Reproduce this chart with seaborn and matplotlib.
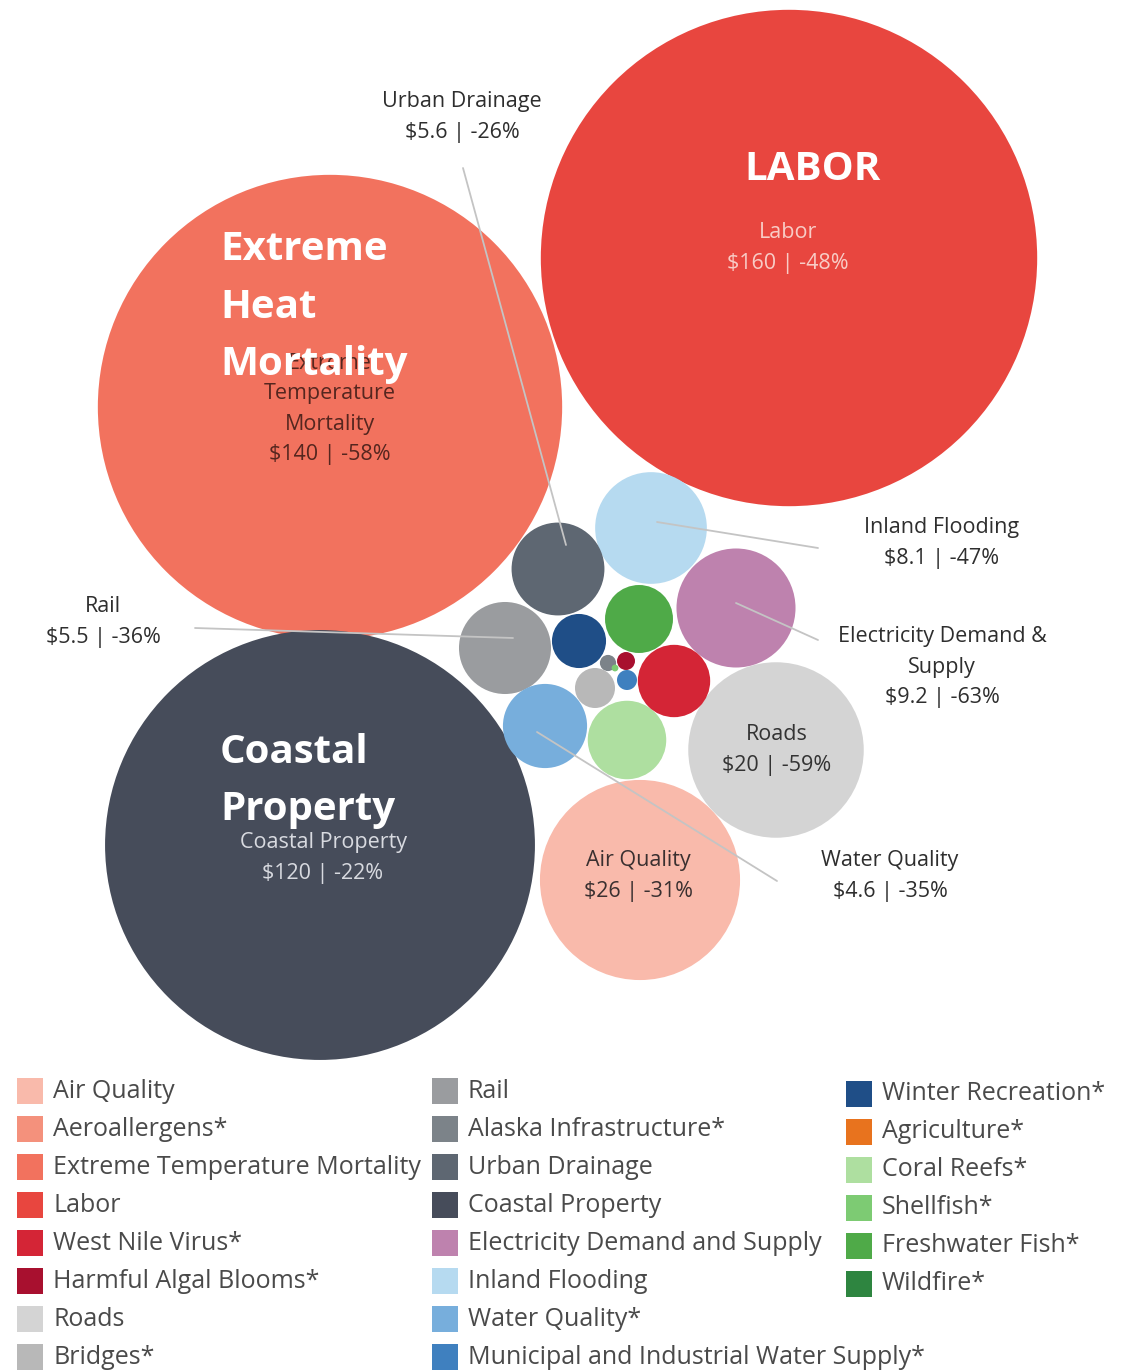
import matplotlib
matplotlib.use("Agg")
import pandas as pd
import seaborn as sns
from matplotlib import pyplot as plt
from matplotlib.patches import Rectangle

W, H = 1132, 1371
FONT = "Open Sans"

# bubble values in $ billions, centres (pixel grid)
bubble_names = ["Labor", "Extreme Temperature Mortality", "Coastal Property", "Air Quality", "Roads",
                "Electricity Demand and Supply", "Inland Flooding", "Urban Drainage", "Rail",
                "Water Quality*", "Coral Reefs*", "West Nile Virus*", "Freshwater Fish*",
                "Winter Recreation*", "Bridges*", "Municipal and Industrial Water Supply*",
                "Harmful Algal Blooms*", "Alaska Infrastructure*", "Shellfish*"]
bubble_values = [160, 140, 120, 26, 20, 9.2, 8.1, 5.6, 5.5, 4.6, 4.0, 3.4, 3.0, 1.9, 1.04, 0.26, 0.21, 0.17, 0.03]
bubble_x = [789, 330, 320, 640, 776, 736, 651, 558, 505, 545, 627, 674, 639, 579, 595, 627, 626, 608, 615]
bubble_y = [258, 407, 845, 880, 750, 608, 528, 569, 648, 726, 740, 681, 619, 641, 688, 680, 661, 663, 668]

legend_col1 = ["Air Quality", "Aeroallergens*", "Extreme Temperature Mortality", "Labor",
               "West Nile Virus*", "Harmful Algal Blooms*", "Roads", "Bridges*"]
legend_col2 = ["Rail", "Alaska Infrastructure*", "Urban Drainage", "Coastal Property",
               "Electricity Demand and Supply", "Inland Flooding", "Water Quality*",
               "Municipal and Industrial Water Supply*"]
legend_col3 = ["Winter Recreation*", "Agriculture*", "Coral Reefs*", "Shellfish*",
               "Freshwater Fish*", "Wildfire*"]

colors = {
    "Air Quality": "#F9BAAB", "Aeroallergens*": "#F4917C", "Extreme Temperature Mortality": "#F2725E",
    "Labor": "#E8463F", "West Nile Virus*": "#D42536", "Harmful Algal Blooms*": "#A8102F",
    "Roads": "#D4D4D4", "Bridges*": "#B8B8B8", "Rail": "#9A9C9F", "Alaska Infrastructure*": "#7C8389",
    "Urban Drainage": "#5E6772", "Coastal Property": "#464C5A", "Electricity Demand and Supply": "#BE82AE",
    "Inland Flooding": "#B6DAF0", "Water Quality*": "#77AEDC", "Municipal and Industrial Water Supply*": "#3F80BF",
    "Winter Recreation*": "#1F4E87", "Agriculture*": "#E8731E", "Coral Reefs*": "#AEDFA0",
    "Shellfish*": "#7DCB73", "Freshwater Fish*": "#4FAA48", "Wildfire*": "#2E8540",
}

# callouts outside the bubbles: text, text centre, leader line start (bubble) and end
callout_text = ["Urban Drainage\n$5.6 | -26%", "Inland Flooding\n$8.1 | -47%",
                "Electricity Demand &\nSupply\n$9.2 | -63%", "Rail\n$5.5 | -36%", "Water Quality\n$4.6 | -35%"]
callout_xy = [(462, 117), (942, 543), (942, 667), (103, 622), (890, 876)]
leader_from = [(566, 545), (657, 522), (736, 603), (513, 638), (537, 732)]
leader_to = [(463, 168), (818, 548), (818, 640), (195, 628), (777, 881)]

# labels inside the bubbles
inner_text = ["Labor\n$160 | -48%", "Extreme\nTemperature\nMortality\n$140 | -58%",
              "Coastal Property\n$120 | -22%", "Roads\n$20 | -59%", "Air Quality\n$26 | -31%"]
inner_xy = [(788, 248), (330, 409), (323, 858), (777, 750), (638, 876)]
inner_color = ["#F8CCC6", "#55261F", "#D8DAE0", "#333333", "#3A3030"]

headline_text = ["LABOR", "Extreme\nHeat\nMortality", "Coastal\nProperty"]
headline_xy = [(813, 170), (220, 307), (220, 781)]
headline_ha = ["center", "left", "left"]

# area proportional to value: radius_px = sqrt(385 * value); markers in points at dpi 100
px_to_pt = 72 / 100
area_per_unit = (2 * px_to_pt) ** 2 * 385

df = pd.DataFrame({"name": bubble_names, "value": bubble_values, "x": bubble_x, "y": bubble_y})

sns.set_style("white")
fig = plt.figure(figsize=(W / 100, H / 100), dpi=100)
ax = fig.add_axes([0, 0, 1, 1])
ax.set_xlim(0, W)
ax.set_ylim(H, 0)
ax.axis("off")

sns.scatterplot(data=df, x="x", y="y", hue="name", palette=colors, size="value",
                sizes=(0, area_per_unit * max(bubble_values)), size_norm=(0, max(bubble_values)),
                linewidth=0, legend=False, ax=ax, zorder=2)

for (x0, y0), (x1, y1) in zip(leader_from, leader_to):
    ax.plot([x0, x1], [y0, y1], color="#C4C4C4", lw=1.3, zorder=3)

for txt, (x, y) in zip(callout_text, callout_xy):
    ax.text(x, y, txt, ha="center", va="center", fontsize=15.5, family=FONT,
            color="#2E2E2E", linespacing=1.58, zorder=4)

for txt, (x, y), c in zip(inner_text, inner_xy, inner_color):
    ax.text(x, y, txt, ha="center", va="center", fontsize=15.5, family=FONT,
            color=c, linespacing=1.58, zorder=4)

for txt, (x, y), ha in zip(headline_text, headline_xy, headline_ha):
    ax.text(x, y, txt, ha=ha, va="center", fontsize=29, family=FONT, weight="bold",
            color="white", linespacing=1.62, zorder=5)

# legend: three columns of swatches
col_x = [17, 432, 846]
col_y0 = [1091, 1091, 1094]
row_step = 38
sw = 26
for cx, cy0, names in zip(col_x, col_y0, [legend_col1, legend_col2, legend_col3]):
    for i, name in enumerate(names):
        cy = cy0 + i * row_step
        ax.add_patch(Rectangle((cx, cy - sw / 2), sw, sw, facecolor=colors[name], edgecolor="none"))
        ax.text(cx + sw + 10, cy, name, ha="left", va="center", fontsize=18, family=FONT,
                color="#4A4A4A")

fig.savefig("out.png", dpi=100)
